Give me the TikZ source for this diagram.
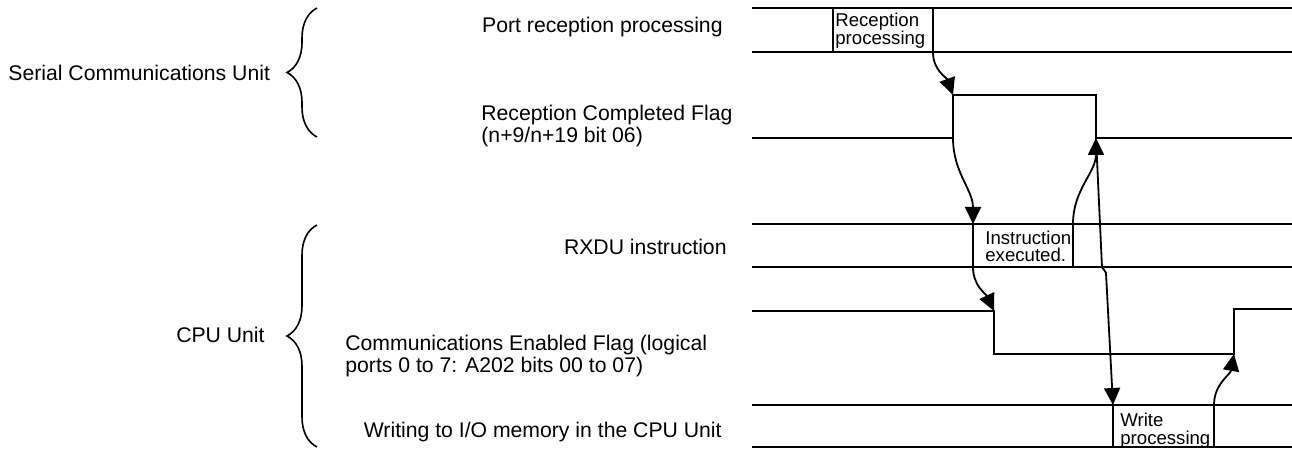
\documentclass[tikz,border=0pt]{standalone}
\usepackage{fontspec}
\setmainfont{Liberation Sans}
\usepackage{tikz}
\usetikzlibrary{arrows.meta,decorations.pathreplacing}
\tikzset{
    sinal/.style={line width=0.9pt, line join=miter},
    seta/.style={line width=0.9pt, -{Triangle[length=8.5pt,width=8pt]}},
    chave/.style={line width=0.8pt, decorate, decoration={brace, amplitude=15pt}},
    rotulo/.style={font=\fontsize{10.6}{11}\selectfont, inner sep=0pt, align=left},
    rotuloCaixa/.style={font=\fontsize{9.3}{9}\selectfont, inner sep=0pt, align=left}
}

\begin{document}
\begin{tikzpicture}[x=0.5pt, y=0.5pt]
    \useasboundingbox (0,0) rectangle (1292,-449);

    % rotulos da esquerda
    \node[rotulo, anchor=base west] (rotSerial) at (8,-81) {Serial Communications Unit};
    \node[rotulo, anchor=base east] (rotCPU) at (265,-343) {CPU Unit};
    \node[rotulo, anchor=base east] (rotPorta) at (723,-33) {Port reception processing};
    \node[rotulo, anchor=base west] (rotFlagRx) at (481,-143) {Reception Completed Flag\\(n+9/n+19 bit 06)};
    \node[rotulo, anchor=base east] (rotRXDU) at (727,-255) {RXDU instruction};
    \node[rotulo, anchor=base west] (rotFlagCom) at (345,-372) {Communications Enabled Flag (logical\\ports 0 to 7: A202 bits 00 to 07)};
    \node[rotulo, anchor=base east] (rotEscrita) at (722,-437) {Writing to I/O memory in the CPU Unit};

    \draw[chave] (317,-137) -- (317,-8);
    \draw[chave] (317,-447) -- (317,-225);

    % recepcao na porta
    \draw[sinal] (752,-8) -- (1292,-8) (752,-52) -- (1292,-52);
    \draw[sinal] (833,-8) -- (833,-52);
    \draw[sinal] (933,-8) -- (933,-52) coordinate (rxFim);
    \node[rotuloCaixa, anchor=base west] (caixaRx) at (835,-45) {Reception\\processing};

    % flag de recepcao concluida
    \draw[sinal] (752,-138) -- (953,-138) coordinate (rcSobeBaixo)
        -- (953,-95) coordinate (rcSobe) -- (1096,-95)
        -- (1096,-138) coordinate (rcDesce) -- (1292,-138);

    % instrucao RXDU
    \draw[sinal] (752,-224) -- (1292,-224) (752,-267) -- (1292,-267);
    \draw[sinal] (973,-224) coordinate (insIni) -- (973,-267) coordinate (insIniBaixo);
    \draw[sinal] (1073,-267) -- (1073,-224) coordinate (insFim);
    \node[rotuloCaixa, anchor=base west] (caixaIns) at (985,-262) {Instruction\\executed.};

    % flag de comunicacao habilitada
    \draw[sinal] (752,-311) -- (994,-311) coordinate (ceDesce)
        -- (994,-354) -- (1234,-354) coordinate (ceSobe)
        -- (1234,-309) -- (1292,-309);

    % escrita na memoria de E/S
    \draw[sinal] (752,-405) -- (1292,-405) (752,-447) -- (1292,-447);
    \draw[sinal] (1113,-447) -- (1113,-405) coordinate (wrIni);
    \draw[sinal] (1214,-447) -- (1214,-405) coordinate (wrFim);
    \node[rotuloCaixa, anchor=base west] (caixaEsc) at (1120,-444) {Write\\processing};

    % setas
    \draw[seta] (rxFim) to[out=-90, in=110] (rcSobe);
    \draw[seta] (rcSobeBaixo) to[out=-90, in=90] (insIni);
    \draw[seta] (insIniBaixo) to[out=-90, in=115] (ceDesce);
    \draw[seta] (insFim) to[out=90, in=-90] (rcDesce);
    \draw[seta] (rcDesce) -- ++(6,-129) to[out=-70, in=105] ++(4,-6) -- (wrIni);
    \draw[seta] (wrFim) to[out=90, in=-100] (ceSobe);
\end{tikzpicture}
\end{document}
